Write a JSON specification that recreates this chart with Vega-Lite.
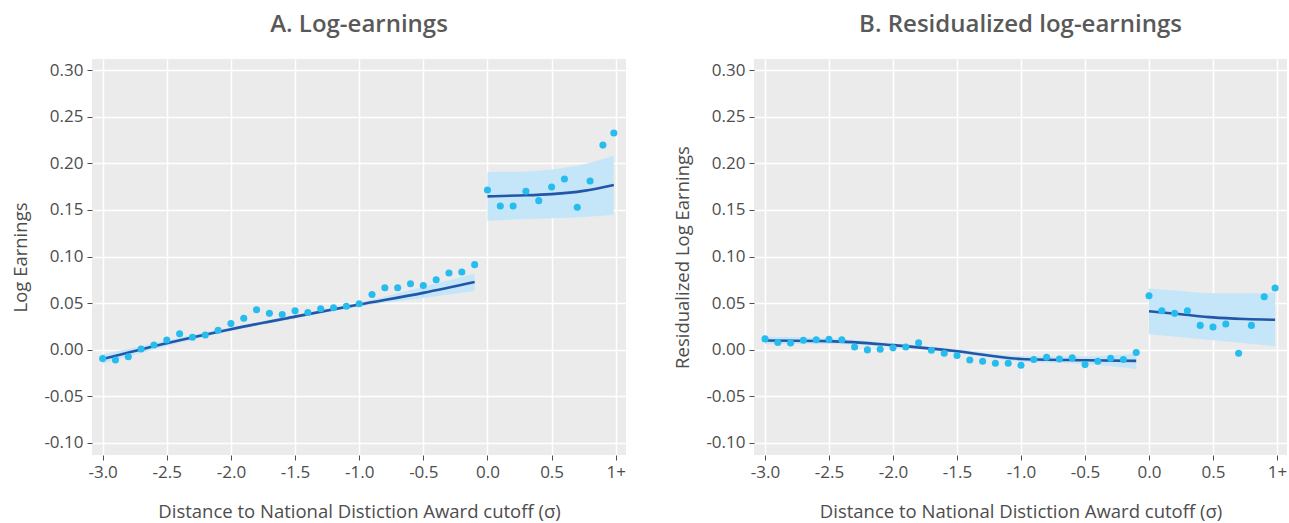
{
  "$schema": "https://vega.github.io/schema/vega-lite/v6.json",
  "padding": {"top": 13, "left": 11, "right": 4, "bottom": 4},
  "background": "#FFFFFF",
  "datasets": {
    "ptsA": [
      {"x": -3.0, "y": -0.0094}, {"x": -2.9, "y": -0.011}, {"x": -2.8, "y": -0.0075}, {"x": -2.7, "y": 0.0007}, {"x": -2.6, "y": 0.005},
      {"x": -2.5, "y": 0.0104}, {"x": -2.4, "y": 0.017}, {"x": -2.3, "y": 0.0133}, {"x": -2.2, "y": 0.0158}, {"x": -2.1, "y": 0.0208},
      {"x": -2.0, "y": 0.028}, {"x": -1.9, "y": 0.0338}, {"x": -1.8, "y": 0.0428}, {"x": -1.7, "y": 0.039}, {"x": -1.6, "y": 0.0377},
      {"x": -1.5, "y": 0.0417}, {"x": -1.4, "y": 0.040}, {"x": -1.3, "y": 0.0439}, {"x": -1.2, "y": 0.045}, {"x": -1.1, "y": 0.0467},
      {"x": -1.0, "y": 0.0493}, {"x": -0.9, "y": 0.0593}, {"x": -0.8, "y": 0.0665}, {"x": -0.7, "y": 0.0665}, {"x": -0.6, "y": 0.0708},
      {"x": -0.5, "y": 0.069}, {"x": -0.4, "y": 0.0751}, {"x": -0.3, "y": 0.0823}, {"x": -0.2, "y": 0.0834}, {"x": -0.1, "y": 0.0913},
      {"x": 0.0, "y": 0.1714}, {"x": 0.1, "y": 0.1542}, {"x": 0.2, "y": 0.1542}, {"x": 0.3, "y": 0.170}, {"x": 0.4, "y": 0.160},
      {"x": 0.5, "y": 0.1747}, {"x": 0.6, "y": 0.1833}, {"x": 0.7, "y": 0.1528}, {"x": 0.8, "y": 0.1811}, {"x": 0.9, "y": 0.2196},
      {"x": 0.985, "y": 0.2325}
    ],
    "fitA": [
      {"seg": "L", "x": -3.0, "fit": -0.010, "lo": -0.015, "hi": -0.005},
      {"seg": "L", "x": -2.5, "fit": 0.007, "lo": 0.004, "hi": 0.010},
      {"seg": "L", "x": -2.0, "fit": 0.022, "lo": 0.020, "hi": 0.024},
      {"seg": "L", "x": -1.5, "fit": 0.0355, "lo": 0.0335, "hi": 0.0375},
      {"seg": "L", "x": -1.0, "fit": 0.0485, "lo": 0.0465, "hi": 0.0505},
      {"seg": "L", "x": -0.5, "fit": 0.061, "lo": 0.0555, "hi": 0.0675},
      {"seg": "L", "x": -0.1, "fit": 0.0726, "lo": 0.0629, "hi": 0.0816},
      {"seg": "R", "x": 0.0, "fit": 0.1646, "lo": 0.1383, "hi": 0.1908},
      {"seg": "R", "x": 0.25, "fit": 0.1655, "lo": 0.140, "hi": 0.191},
      {"seg": "R", "x": 0.5, "fit": 0.167, "lo": 0.141, "hi": 0.1935},
      {"seg": "R", "x": 0.75, "fit": 0.1705, "lo": 0.1425, "hi": 0.199},
      {"seg": "R", "x": 0.985, "fit": 0.1768, "lo": 0.1448, "hi": 0.2084}
    ],
    "ptsB": [
      {"x": -3.0, "y": 0.0116}, {"x": -2.9, "y": 0.0078}, {"x": -2.8, "y": 0.0073}, {"x": -2.7, "y": 0.0102}, {"x": -2.6, "y": 0.0106},
      {"x": -2.5, "y": 0.0113}, {"x": -2.4, "y": 0.0106}, {"x": -2.3, "y": 0.0030}, {"x": -2.2, "y": -0.0002}, {"x": -2.1, "y": 0.0005},
      {"x": -2.0, "y": 0.002}, {"x": -1.9, "y": 0.003}, {"x": -1.8, "y": 0.0073}, {"x": -1.7, "y": -0.0005}, {"x": -1.6, "y": -0.0038},
      {"x": -1.5, "y": -0.0063}, {"x": -1.4, "y": -0.011}, {"x": -1.3, "y": -0.0124}, {"x": -1.2, "y": -0.0146}, {"x": -1.1, "y": -0.0146},
      {"x": -1.0, "y": -0.0167}, {"x": -0.9, "y": -0.0106}, {"x": -0.8, "y": -0.0081}, {"x": -0.7, "y": -0.0099}, {"x": -0.6, "y": -0.0088},
      {"x": -0.5, "y": -0.016}, {"x": -0.4, "y": -0.0124}, {"x": -0.3, "y": -0.0092}, {"x": -0.2, "y": -0.0106}, {"x": -0.1, "y": -0.003},
      {"x": 0.0, "y": 0.058}, {"x": 0.1, "y": 0.0419}, {"x": 0.2, "y": 0.039}, {"x": 0.3, "y": 0.0419}, {"x": 0.4, "y": 0.0261},
      {"x": 0.5, "y": 0.0243}, {"x": 0.6, "y": 0.0275}, {"x": 0.7, "y": -0.0038}, {"x": 0.8, "y": 0.0261}, {"x": 0.9, "y": 0.0569},
      {"x": 0.985, "y": 0.0663}
    ],
    "fitB": [
      {"seg": "L", "x": -3.0, "fit": 0.0099, "lo": 0.0059, "hi": 0.0139},
      {"seg": "L", "x": -2.5, "fit": 0.0092, "lo": 0.0062, "hi": 0.0122},
      {"seg": "L", "x": -2.0, "fit": 0.0049, "lo": 0.0029, "hi": 0.0069},
      {"seg": "L", "x": -1.5, "fit": -0.0016, "lo": -0.0036, "hi": 0.0004},
      {"seg": "L", "x": -1.0, "fit": -0.0099, "lo": -0.0129, "hi": -0.0069},
      {"seg": "L", "x": -0.5, "fit": -0.0113, "lo": -0.0153, "hi": -0.0073},
      {"seg": "L", "x": -0.1, "fit": -0.012, "lo": -0.0207, "hi": -0.004},
      {"seg": "R", "x": 0.0, "fit": 0.0412, "lo": 0.0167, "hi": 0.0656},
      {"seg": "R", "x": 0.25, "fit": 0.038, "lo": 0.0135, "hi": 0.063},
      {"seg": "R", "x": 0.5, "fit": 0.0347, "lo": 0.0102, "hi": 0.0606},
      {"seg": "R", "x": 0.75, "fit": 0.033, "lo": 0.007, "hi": 0.0605},
      {"seg": "R", "x": 0.985, "fit": 0.0321, "lo": 0.0038, "hi": 0.0612}
    ]
  },
  "hconcat": [
    {
      "width": 534,
      "height": 396,
      "title": "A. Log-earnings",
      "layer": [
        {
          "data": {"name": "fitA"},
          "mark": {"type": "area", "color": "#C4E6F8", "opacity": 1, "interpolate": "monotone"},
          "encoding": {
            "x": {"field": "x", "type": "quantitative", "scale": {"domain": [-3.083, 1.08], "nice": false, "zero": false},
                  "axis": {"values": [-3, -2.5, -2, -1.5, -1, -0.5, 0, 0.5, 1], "labelExpr": "datum.value == 1 ? '1+' : replace(format(datum.value, '.1f'), '−', '-')", "title": "Distance to National Distiction Award cutoff (σ)"}},
            "y": {"field": "lo", "type": "quantitative", "scale": {"domain": [-0.113, 0.312], "nice": false, "zero": false},
                  "axis": {"values": [-0.1, -0.05, 0, 0.05, 0.1, 0.15, 0.2, 0.25, 0.3], "labelExpr": "replace(format(datum.value, '.2f'), '−', '-')", "title": "Log Earnings"}},
            "y2": {"field": "hi"},
            "detail": {"field": "seg"}
          }
        },
        {
          "data": {"name": "fitA"},
          "mark": {"type": "line", "color": "#2356A6", "strokeWidth": 2.6, "interpolate": "monotone"},
          "encoding": {
            "x": {"field": "x", "type": "quantitative"},
            "y": {"field": "fit", "type": "quantitative"},
            "detail": {"field": "seg"}
          }
        },
        {
          "data": {"name": "ptsA"},
          "mark": {"type": "circle", "color": "#27BCEE", "size": 50, "opacity": 1},
          "encoding": {
            "x": {"field": "x", "type": "quantitative"},
            "y": {"field": "y", "type": "quantitative"}
          }
        }
      ]
    },
    {
      "width": 533,
      "height": 396,
      "title": "B. Residualized log-earnings",
      "layer": [
        {
          "data": {"name": "fitB"},
          "mark": {"type": "area", "color": "#C4E6F8", "opacity": 1, "interpolate": "monotone"},
          "encoding": {
            "x": {"field": "x", "type": "quantitative", "scale": {"domain": [-3.086, 1.078], "nice": false, "zero": false},
                  "axis": {"values": [-3, -2.5, -2, -1.5, -1, -0.5, 0, 0.5, 1], "labelExpr": "datum.value == 1 ? '1+' : replace(format(datum.value, '.1f'), '−', '-')", "title": "Distance to National Distiction Award cutoff (σ)"}},
            "y": {"field": "lo", "type": "quantitative", "scale": {"domain": [-0.113, 0.312], "nice": false, "zero": false},
                  "axis": {"values": [-0.1, -0.05, 0, 0.05, 0.1, 0.15, 0.2, 0.25, 0.3], "labelExpr": "replace(format(datum.value, '.2f'), '−', '-')", "title": "Residualized Log Earnings"}},
            "y2": {"field": "hi"},
            "detail": {"field": "seg"}
          }
        },
        {
          "data": {"name": "fitB"},
          "mark": {"type": "line", "color": "#2356A6", "strokeWidth": 2.6, "interpolate": "monotone"},
          "encoding": {
            "x": {"field": "x", "type": "quantitative"},
            "y": {"field": "fit", "type": "quantitative"},
            "detail": {"field": "seg"}
          }
        },
        {
          "data": {"name": "ptsB"},
          "mark": {"type": "circle", "color": "#27BCEE", "size": 50, "opacity": 1},
          "encoding": {
            "x": {"field": "x", "type": "quantitative"},
            "y": {"field": "y", "type": "quantitative"}
          }
        }
      ]
    }
  ],
  "config": {
    "font": "Open Sans",
    "view": {"fill": "#EBEBEB", "stroke": null},
    "concat": {"spacing": 47},
    "axis": {
      "grid": true, "gridColor": "#FFFFFF", "gridWidth": 1.5, "domain": false,
      "tickColor": "#4D4D4D", "tickSize": 5, "tickWidth": 1,
      "labelColor": "#4D4D4D", "labelFontSize": 17, "labelPadding": 4,
      "titleColor": "#4D4D4D", "titleFontSize": 18.5, "titleFontWeight": "normal"
    },
    "axisX": {"titlePadding": 22},
    "axisY": {"titlePadding": 13},
    "title": {"fontSize": 24, "fontWeight": 600, "color": "#595959", "anchor": "middle", "offset": 22}
  }
}
